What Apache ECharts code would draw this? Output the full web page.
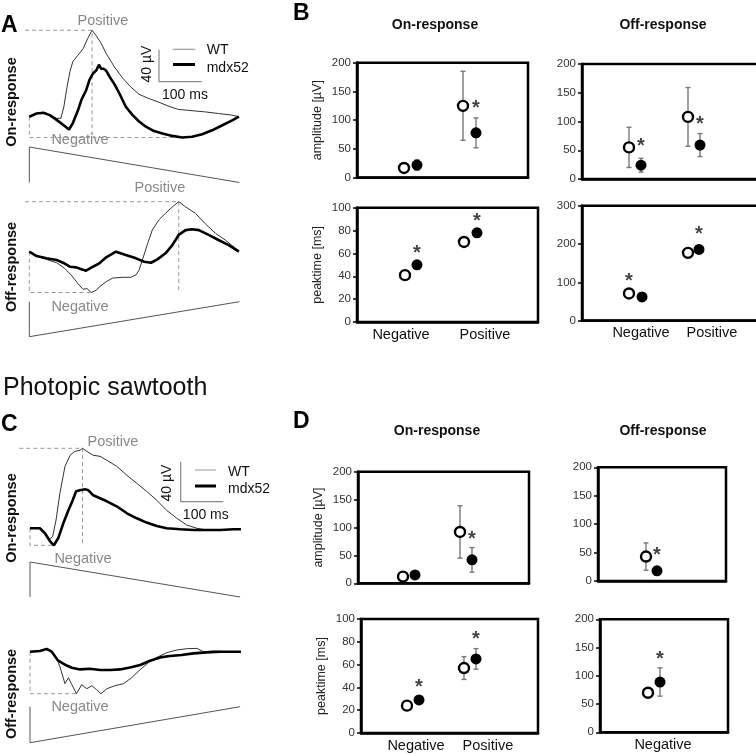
<!DOCTYPE html>
<html>
<head>
<meta charset="utf-8">
<script src="https://cdn.jsdelivr.net/npm/echarts@6/dist/echarts.min.js"></script>
<style>
html, body { margin: 0; padding: 0; background: #fff; }
#chart { width: 756px; height: 754px; }
</style>
</head>
<body>
<div id="chart"></div>
<script>
const FONT = '"Liberation Sans", Arial, sans-serif';

// ---- ERG traces: time [ms], response [µV] ----
// A, on-response
const aOnWtT = [0, 17, 33, 48, 64, 74, 81, 87, 95, 102, 114, 126, 137, 147, 157, 168, 180, 199, 219, 238, 257, 281, 304, 327, 350, 381, 412, 443, 474, 491];
const aOnWtV = [0, 4, 5, 2, -2, -2, 12.5, 33, 56, 69, 77, 85, 98, 108, 101, 92, 79, 62.5, 48, 37, 28, 22.5, 18, 13, 9, 7.5, 6, 4, 2, 0];
const aOnMdxT = [0, 17, 33, 48, 64, 79, 93, 102, 114, 122, 133, 141, 149, 157, 163, 168, 174, 180, 188, 199, 211, 226, 242, 257, 273, 292, 312, 335, 358, 381, 405, 428, 451, 474, 491];
const aOnMdxV = [0, 4, 5, 2, -4, -10, -16, -8, 8, 21, 33, 46, 54, 58, 65, 60, 60, 57.5, 50, 41, 29, 12.5, 2, -6, -12.5, -18, -21, -24, -26, -25, -22, -17, -11, -5, 0];
// A, off-response
const aOffWtT = [0, 17, 40, 64, 83, 98, 114, 126, 135, 145, 157, 164, 180, 195, 219, 238, 250, 257, 265, 277, 288, 304, 319, 335, 350, 366, 389, 412, 436, 459, 474, 491];
const aOffWtV = [0, -5.4, -9.6, -13.8, -21, -29, -40, -47, -46, -51, -48, -44, -37.5, -33, -32, -32, -29, -23, -10, 10, 27, 40, 48, 56, 62.5, 56, 48, 35, 23, 14.6, 8, 1];
const aOffMdxT = [0, 17, 40, 64, 79, 95, 110, 122, 133, 149, 164, 180, 203, 226, 250, 269, 285, 300, 319, 335, 350, 366, 381, 397, 420, 443, 467, 491];
const aOffMdxV = [0, -5.4, -8.3, -10.4, -13.8, -18.8, -19.6, -22, -23.8, -18.8, -14.6, -7, 0, -4.2, -8.3, -12.5, -13.8, -9.6, -2, 8.3, 21, 27, 28, 27, 21, 14.6, 8.3, 0];
// C, on-response
const cOnWtT = [0, 23, 35, 45, 53, 61, 70, 82, 94, 105, 117, 123, 133, 148, 164, 180, 203, 227, 250, 273, 297, 320, 344, 367, 391, 414, 445, 477, 494];
const cOnWtV = [0, 0.7, -4.3, -11, -8.3, 8.3, 35, 62, 73, 77, 78, 80, 77, 73, 72, 68, 62, 53, 45, 37, 28, 18, 10, 3.3, 0, -1.7, -1.7, -1, -1];
const cOnMdxT = [0, 23, 35, 47, 56, 66, 78, 90, 100, 108, 117, 129, 137, 148, 164, 180, 203, 227, 250, 273, 297, 320, 352, 383, 414, 445, 477, 494];
const cOnMdxV = [0, 0, -5, -13, -17, -10, 5, 18, 28, 37, 38, 39, 38, 33, 30, 27, 22, 15, 10, 5.7, 2.3, 0, -1, -1.7, -1.7, -1.7, -1, -1];
// C, off-response
const cOffWtT = [0, 23, 39, 51, 63, 70, 82, 90, 98, 109, 121, 133, 145, 156, 166, 180, 199, 219, 238, 258, 277, 297, 320, 344, 367, 391, 406, 430, 461, 494];
const cOffWtV = [0, 0.7, 2.7, 0, -6.7, -15, -32, -26, -33, -42, -33, -37, -34, -38, -42, -37, -34, -32, -26, -18, -11, -5.7, -1, 1.7, 3, 3.3, 0, 0.7, 0, 0];
const cOffMdxT = [0, 23, 39, 51, 66, 82, 98, 117, 141, 164, 188, 211, 234, 258, 281, 305, 328, 355, 383, 414, 445, 494];
const cOffMdxV = [0, 0.7, 2.7, 0, -9, -13, -16, -17.7, -17, -18.3, -18.3, -17.7, -15.7, -13.3, -9, -5.7, -4.3, -3.3, -1.7, -0.7, 0, 0];

// sawtooth stimulus (normalised luminance)
const rampT = [0, 0, 492];
const rampOnI = [0, 1, 0];
const rampOffI = [1, 0, 1];

// scale bar
const barUv = 40, barMs = 100;

// ---- summary statistics (mean, SD) ----
const groups = ['Negative', 'Positive'];
// B
const bOnAmpWt = [17, 125], bOnAmpWtSd = [8, 60], bOnAmpMdx = [22, 78], bOnAmpMdxSd = [9, 26], bOnAmpSig = [null, 129];
const bOnPkWt = [41, 70], bOnPkWtSd = [2, 2], bOnPkMdx = [50, 78], bOnPkMdxSd = [2, 2], bOnPkSig = [64.5, 92];
const bOffAmpWt = [55, 108], bOffAmpWtSd = [35, 51], bOffAmpMdx = [24, 59], bOffAmpMdxSd = [12, 20], bOffAmpSig = [65, 104];
const bOffPkWt = [71, 177], bOffPkWtSd = [4, 4], bOffPkMdx = [62, 186], bOffPkMdxSd = [4, 4], bOffPkSig = [115, 238];
// D
const dOnAmpWt = [12, 92], dOnAmpWtSd = [4, 47], dOnAmpMdx = [15, 42], dOnAmpMdxSd = [5, 22], dOnAmpSig = [null, 88];
const dOnPkWt = [24, 57], dOnPkWtSd = [2, 10], dOnPkMdx = [29, 65], dOnPkMdxSd = [2, 9], dOnPkSig = [44, 86];
const dOffAmpWt = [43], dOffAmpWtSd = [24], dOffAmpMdx = [18], dOffAmpMdxSd = [6], dOffAmpSig = [54.5];
const dOffPkWt = [70], dOffPkWtSd = [8], dOffPkMdx = [89], dOffPkMdxSd = [25], dOffPkSig = [137];

// ---------------------------------------------------------------
const grid = [], xAxis = [], yAxis = [], series = [], graphic = [];

function addGrid(g, xa, ya) {
    grid.push(Object.assign({ containLabel: false, outerBoundsMode: 'none' }, g));
    const i = grid.length - 1;
    xAxis.push(Object.assign({ gridIndex: i }, xa));
    yAxis.push(Object.assign({ gridIndex: i }, ya));
    return i;
}
const zip = (t, v) => t.map((x, i) => [x, v[i]]);

// trace panels
const PX_MS = 0.427, X_MIN = -30, X_MAX = 500;
const tracePanels = [
    { wtT: aOnWtT, wtV: aOnWtV, mdxT: aOnMdxT, mdxV: aOnMdxV, x0: 29.3, y0: 116.7, pxUv: 0.8, yMin: -30, yMax: 115, posFrom: -10, ramp: rampOnI, stimTop: 147, stimH: 35.5, bar: [303.7, 43.75] },
    { wtT: aOffWtT, wtV: aOffWtV, mdxT: aOffMdxT, mdxV: aOffMdxV, x0: 29.3, y0: 251.7, pxUv: 0.8, yMin: -60, yMax: 70, posFrom: -10, ramp: rampOffI, stimTop: 301.7, stimH: 35 },
    { wtT: cOnWtT, wtV: cOnWtV, mdxT: cOnMdxT, mdxV: cOnMdxV, x0: 30, y0: 528.3, pxUv: 1, yMin: -25, yMax: 90, posFrom: -25, ramp: rampOnI, stimTop: 562, stimH: 35, bar: [352.9, 26.6] },
    { wtT: cOffWtT, wtV: cOffWtV, mdxT: cOffMdxT, mdxV: cOffMdxV, x0: 30, y0: 651.7, pxUv: 1, yMin: -50, yMax: 10, posFrom: null, ramp: rampOffI, stimTop: 706.7, stimH: 36 }
];

const hidden = { type: 'value', show: false };
const dash = { color: '#999', width: 1, type: [4, 3] };

tracePanels.forEach(p => {
    const left = p.x0 + X_MIN * PX_MS, width = (X_MAX - X_MIN) * PX_MS;
    const g = addGrid(
        { left: left, top: p.y0 - p.yMax * p.pxUv, width: width, height: (p.yMax - p.yMin) * p.pxUv },
        Object.assign({ min: X_MIN, max: X_MAX }, hidden),
        Object.assign({ min: p.yMin, max: p.yMax }, hidden)
    );
    const line = (data, style, z) => series.push({
        type: 'line', xAxisIndex: g, yAxisIndex: g, data: data, symbol: 'none', showSymbol: false,
        clip: false, silent: true, lineStyle: style, z: z || 2
    });
    line(zip(p.wtT, p.wtV), { color: '#333', width: 1 }, 3);
    line(zip(p.mdxT, p.mdxV), { color: '#000', width: 2.6 }, 4);

    // guide lines for the peaks
    const all = p.wtV.concat(p.mdxV), allT = p.wtT.concat(p.mdxT);
    const neg = Math.min(...all), tNeg = allT[all.indexOf(neg)];
    line([[0, 0], [0, neg], [tNeg, neg]], dash, 1);
    if (p.posFrom !== null) {
        const pos = Math.max(...p.wtV), tPos = p.wtT[p.wtV.indexOf(pos)];
        line([[p.posFrom, pos], [tPos, pos], [tPos, neg]], dash, 1);
    }
    if (p.bar) {
        const [bx, by] = p.bar;
        line([[bx, by + barUv], [bx, by], [bx + barMs, by]], { color: '#888', width: 1.2 }, 1);
    }

    // stimulus
    const s = addGrid(
        { left: left, top: p.stimTop, width: width, height: p.stimH },
        Object.assign({ min: X_MIN, max: X_MAX }, hidden),
        Object.assign({ min: 0, max: 1 }, hidden)
    );
    series.push({
        type: 'line', xAxisIndex: s, yAxisIndex: s, data: zip(rampT, p.ramp), symbol: 'none',
        clip: false, silent: true, lineStyle: { color: '#555', width: 1 }
    });
});

// summary panels
const statPanels = [
    { wt: bOnAmpWt, wtSd: bOnAmpWtSd, mdx: bOnAmpMdx, mdxSd: bOnAmpMdxSd, sig: bOnAmpSig, starOn: ['mdx', 'mdx'],
      left: 357, top: 62.7, width: 171, height: 115, yMax: 200, step: 50, yName: 'amplitude [µV]', slots: [404, 417, 463, 476] },
    { wt: bOnPkWt, wtSd: bOnPkWtSd, mdx: bOnPkMdx, mdxSd: bOnPkMdxSd, sig: bOnPkSig, starOn: ['mdx', 'mdx'],
      left: 357, top: 207.7, width: 181, height: 114.3, yMax: 100, step: 20, yName: 'peaktime [ms]', slots: [405, 417, 464, 477], labels: [401, 485] },
    { wt: bOffAmpWt, wtSd: bOffAmpWtSd, mdx: bOffAmpMdx, mdxSd: bOffAmpMdxSd, sig: bOffAmpSig, starOn: ['mdx', 'mdx'],
      left: 582, top: 64, width: 200, height: 115, yMax: 200, step: 50, slots: [629, 641, 688, 700] },
    { wt: bOffPkWt, wtSd: bOffPkWtSd, mdx: bOffPkMdx, mdxSd: bOffPkMdxSd, sig: bOffPkSig, starOn: ['wt', 'mdx'],
      left: 582, top: 205.7, width: 200, height: 115, yMax: 300, step: 100, slots: [629, 642, 688, 699], labels: [641, 712] },
    { wt: dOnAmpWt, wtSd: dOnAmpWtSd, mdx: dOnAmpMdx, mdxSd: dOnAmpMdxSd, sig: dOnAmpSig, starOn: ['mdx', 'mdx'],
      left: 358, top: 471.7, width: 171, height: 111.6, yMax: 200, step: 50, yName: 'amplitude [µV]', slots: [403, 415, 460, 472] },
    { wt: dOnPkWt, wtSd: dOnPkWtSd, mdx: dOnPkMdx, mdxSd: dOnPkMdxSd, sig: dOnPkSig, starOn: ['mdx', 'mdx'],
      left: 361, top: 619, width: 177, height: 114, yMax: 100, step: 20, yName: 'peaktime [ms]', slots: [407, 419, 464, 476], labels: [416, 488] },
    { wt: dOffAmpWt, wtSd: dOffAmpWtSd, mdx: dOffAmpMdx, mdxSd: dOffAmpMdxSd, sig: dOffAmpSig, starOn: ['mdx'],
      left: 598, top: 467.3, width: 128, height: 113.7, yMax: 200, step: 50, slots: [646, 657] },
    { wt: dOffPkWt, wtSd: dOffPkWtSd, mdx: dOffPkMdx, mdxSd: dOffPkMdxSd, sig: dOffPkSig, starOn: ['mdx'],
      left: 600, top: 619.3, width: 128, height: 113, yMax: 200, step: 50, slots: [648, 660], labels: [663] }
];

function renderErr(params, api) {
    const x = api.value(0), y = api.value(1), e = api.value(2);
    const a = api.coord([x, y + e]), b = api.coord([x, y - e]);
    const st = { stroke: '#777', lineWidth: 1.4 };
    return { type: 'group', children: [
        { type: 'line', shape: { x1: a[0], y1: a[1], x2: b[0], y2: b[1] }, style: st },
        { type: 'line', shape: { x1: a[0] - 2.5, y1: a[1], x2: a[0] + 2.5, y2: a[1] }, style: st },
        { type: 'line', shape: { x1: b[0] - 2.5, y1: b[1], x2: b[0] + 2.5, y2: b[1] }, style: st }
    ] };
}

statPanels.forEach(p => {
    const fx = px => (px - p.left) / p.width;
    const catVals = (p.labels || []).map(fx);
    const g = addGrid(
        { left: p.left, top: p.top, width: p.width, height: p.height, show: true, borderColor: '#000', borderWidth: 2.5 },
        { type: 'value', min: 0, max: 1, splitLine: { show: false }, axisTick: { show: false },
          axisLine: { show: true, lineStyle: { color: '#000', width: 2.5 } },
          axisLabel: p.labels ? {
              show: true, customValues: catVals, margin: 5, fontSize: 14.5, fontFamily: FONT, color: '#111',
              formatter: v => { const i = catVals.findIndex(c => Math.abs(c - v) < 1e-6); return i < 0 ? '' : groups[i]; }
          } : { show: false } },
        { type: 'value', min: 0, max: p.yMax, interval: p.step, splitLine: { show: false },
          name: p.yName || '', nameLocation: 'middle', nameGap: 33,
          nameTextStyle: { fontSize: 12.5, fontFamily: FONT, color: '#222' },
          axisLine: { show: true, lineStyle: { color: '#000', width: 2.5 } },
          axisTick: { show: true, length: 4, lineStyle: { color: '#000', width: 1.5 } },
          axisLabel: { fontSize: 11.5, fontFamily: FONT, color: '#333', margin: 6 } }
    );
    const wtPts = p.wt.map((v, i) => [fx(p.slots[2 * i]), v, p.wtSd[i]]);
    const mdxPts = p.mdx.map((v, i) => [fx(p.slots[2 * i + 1]), v, p.mdxSd[i]]);
    series.push({ type: 'custom', xAxisIndex: g, yAxisIndex: g, renderItem: renderErr, data: wtPts.concat(mdxPts), silent: true, z: 2 });
    series.push({ type: 'scatter', xAxisIndex: g, yAxisIndex: g, data: wtPts.map(d => [d[0], d[1]]), symbolSize: 10,
        itemStyle: { color: '#fff', borderColor: '#000', borderWidth: 2.4, opacity: 1 }, silent: true, z: 4 });
    series.push({ type: 'scatter', xAxisIndex: g, yAxisIndex: g, data: mdxPts.map(d => [d[0], d[1]]), symbolSize: 11,
        itemStyle: { color: '#000', opacity: 1 }, silent: true, z: 4 });
    const stars = [];
    p.sig.forEach((v, i) => {
        if (v === null) return;
        const slot = p.starOn[i] === 'wt' ? p.slots[2 * i] : p.slots[2 * i + 1];
        stars.push([fx(slot), v]);
    });
    series.push({ type: 'scatter', xAxisIndex: g, yAxisIndex: g, data: stars, symbolSize: 1,
        itemStyle: { color: 'rgba(0,0,0,0)' }, silent: true, z: 5,
        label: { show: true, position: 'inside', formatter: '*', offset: [0, 5],
                 fontSize: 20, fontWeight: 'bold', fontFamily: FONT, color: '#111' } });
});

// ---- text and legend graphics ----
function txt(x, y, text, font, color, align, rot) {
    graphic.push({ type: 'text', x: x, y: y, rotation: rot || 0, silent: true,
        style: { text: text, font: font, fill: color || '#111', align: align || 'center', verticalAlign: 'middle' } });
}
const bold = s => 'bold ' + s + 'px ' + FONT;
const reg = s => s + 'px ' + FONT;

txt(1, 26, 'A', bold(23), '#000', 'left');
txt(293, 14, 'B', bold(23), '#000', 'left');
txt(1, 425, 'C', bold(23), '#000', 'left');
txt(293, 422, 'D', bold(23), '#000', 'left');
txt(3, 388, 'Photopic sawtooth', reg(25), '#111', 'left');

txt(12, 102, 'On-response', bold(14.5), '#111', 'center', Math.PI / 2);
txt(12, 267, 'Off-response', bold(14.5), '#111', 'center', Math.PI / 2);
txt(12, 518, 'On-response', bold(14.5), '#111', 'center', Math.PI / 2);
txt(12, 694, 'Off-response', bold(14.5), '#111', 'center', Math.PI / 2);

txt(435, 25, 'On-response', bold(14));
txt(663, 25, 'Off-response', bold(14));
txt(437, 431, 'On-response', bold(14));
txt(663, 431, 'Off-response', bold(14));

const gray = '#888';
txt(103, 21, 'Positive', reg(14.5), gray);
txt(80, 140, 'Negative', reg(14.5), gray);
txt(160, 188, 'Positive', reg(14.5), gray);
txt(80, 307, 'Negative', reg(14.5), gray);
txt(113, 442, 'Positive', reg(14.5), gray);
txt(83, 559, 'Negative', reg(14.5), gray);
txt(80, 707, 'Negative', reg(14.5), gray);

// scale bar labels and legends
txt(146.7, 64, '40 µV', reg(14), '#111', 'center', Math.PI / 2);
txt(185, 95, '100 ms', reg(14));
txt(166.7, 483, '40 µV', reg(14), '#111', 'center', Math.PI / 2);
txt(205.8, 515, '100 ms', reg(14));

function legendLine(x1, x2, y, color, w) {
    graphic.push({ type: 'line', silent: true, shape: { x1: x1, y1: y, x2: x2, y2: y }, style: { stroke: color, lineWidth: w } });
}
legendLine(173, 195, 49.3, '#999', 1.2);
legendLine(173, 195, 64.5, '#000', 3);
txt(206.7, 50, 'WT', reg(14), '#111', 'left');
txt(206.7, 68, 'mdx52', reg(14), '#111', 'left');
legendLine(195, 216, 470, '#aaa', 1.2);
legendLine(195, 216, 486, '#000', 3);
txt(228, 472, 'WT', reg(14), '#111', 'left');
txt(228, 489, 'mdx52', reg(14), '#111', 'left');

const chart = echarts.init(document.getElementById('chart'));
chart.setOption({
    animation: false,
    backgroundColor: '#fff',
    textStyle: { fontFamily: FONT },
    grid: grid, xAxis: xAxis, yAxis: yAxis, series: series, graphic: graphic
});
</script>
</body>
</html>
